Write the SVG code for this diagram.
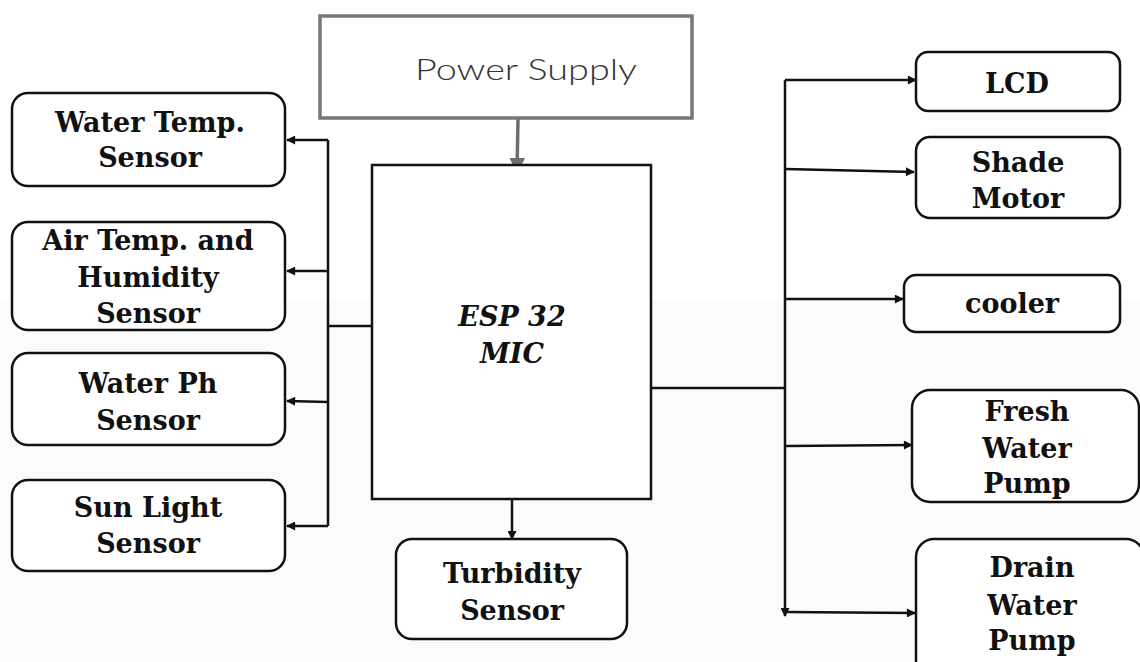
<svg xmlns="http://www.w3.org/2000/svg" width="1140" height="662" viewBox="0 0 1140 662">
<style>
.box{fill:#fff;stroke:#111;stroke-width:2.5}
.lbl{font-family:"DejaVu Serif","Liberation Serif",serif;font-weight:bold;font-size:27px;fill:#111;text-anchor:middle}
.mic{font-family:"DejaVu Serif","Liberation Serif",serif;font-weight:bold;font-style:italic;font-size:27px;fill:#111;text-anchor:middle}
.ln{fill:none;stroke:#111;stroke-width:2.5}
.arr{fill:none;stroke:#111;stroke-width:2.5;marker-end:url(#ah)}
</style>
<defs>
<marker id="ah" viewBox="0 0 10 10" refX="9" refY="5" markerWidth="4" markerHeight="3.6" orient="auto" markerUnits="strokeWidth">
<path d="M0,0 L10,5 L0,10 z" fill="#111"/>
</marker>
<marker id="ahg" viewBox="0 0 10 10" refX="9" refY="5" markerWidth="4.5" markerHeight="4.5" orient="auto" markerUnits="strokeWidth">
<path d="M0,0 L10,5 L0,10 z" fill="#6e6e6e"/>
</marker>
</defs>
<rect width="1140" height="662" fill="#fff"/>
<rect y="300" width="1140" height="362" fill="#fbfbfb"/>

<g id="connectors">
<line x1="518" y1="119" x2="517" y2="172" stroke="#6e6e6e" stroke-width="3.5" marker-end="url(#ahg)"/>
<line class="ln" x1="372" y1="326" x2="328" y2="326"/>
<line class="ln" x1="328" y1="140" x2="328" y2="526"/>
<line class="arr" x1="328" y1="140" x2="287" y2="140"/>
<line class="arr" x1="328" y1="271" x2="287" y2="271"/>
<line class="arr" x1="328" y1="402" x2="287" y2="401"/>
<line class="arr" x1="328" y1="526" x2="287" y2="526"/>
<line class="arr" x1="512" y1="499" x2="512" y2="539"/>
<line class="ln" x1="651" y1="388" x2="785" y2="388"/>
<line class="arr" x1="785" y1="80" x2="785" y2="616"/>
<line class="arr" x1="785" y1="80" x2="916" y2="80"/>
<line class="arr" x1="785" y1="169" x2="914" y2="172"/>
<line class="arr" x1="785" y1="299" x2="903" y2="299"/>
<line class="arr" x1="785" y1="446" x2="912" y2="445"/>
<line class="arr" x1="785" y1="612" x2="915" y2="613"/>
</g>

<g id="power">
<rect x="320" y="16" width="372" height="102" fill="#fff" stroke="#777" stroke-width="3.5"/>
<text x="526" y="80" font-family="Lato,'DejaVu Sans',sans-serif" font-weight="300" font-size="29" fill="#333" text-anchor="middle" textLength="222" lengthAdjust="spacingAndGlyphs">Power Supply</text>
</g>

<g id="esp32">
<rect x="372" y="165" width="279" height="334" fill="#fff" stroke="#111" stroke-width="2.5"/>
<text class="mic" x="512" y="326">ESP 32</text>
<text class="mic" x="512" y="363">MIC</text>
</g>

<g id="water-temp">
<rect class="box" x="12" y="93" width="273" height="93" rx="16"/>
<text class="lbl" x="150" y="132">Water Temp.</text>
<text class="lbl" x="150" y="167">Sensor</text>
</g>

<g id="air-temp">
<rect class="box" x="12" y="222" width="273" height="108" rx="16"/>
<text class="lbl" x="148" y="250">Air Temp. and</text>
<text class="lbl" x="148" y="287">Humidity</text>
<text class="lbl" x="148" y="323">Sensor</text>
</g>

<g id="water-ph">
<rect class="box" x="12" y="353" width="273" height="92" rx="16"/>
<text class="lbl" x="148" y="393">Water Ph</text>
<text class="lbl" x="148" y="430">Sensor</text>
</g>

<g id="sun-light">
<rect class="box" x="12" y="480" width="273" height="91" rx="16"/>
<text class="lbl" x="148" y="517">Sun Light</text>
<text class="lbl" x="148" y="553">Sensor</text>
</g>

<g id="turbidity">
<rect class="box" x="396" y="539" width="231" height="100" rx="16"/>
<text class="lbl" x="512" y="583">Turbidity</text>
<text class="lbl" x="512" y="620">Sensor</text>
</g>

<g id="lcd">
<rect class="box" x="916" y="52" width="204" height="59" rx="12"/>
<text class="lbl" x="1017" y="93">LCD</text>
</g>

<g id="shade-motor">
<rect class="box" x="916" y="137" width="204" height="81" rx="14"/>
<text class="lbl" x="1018" y="172">Shade</text>
<text class="lbl" x="1018" y="208">Motor</text>
</g>

<g id="cooler">
<rect class="box" x="904" y="275" width="216" height="57" rx="12"/>
<text class="lbl" x="1012" y="313">cooler</text>
</g>

<g id="fresh-pump">
<rect class="box" x="912" y="390" width="227" height="112" rx="18"/>
<text class="lbl" x="1027" y="421">Fresh</text>
<text class="lbl" x="1027" y="458">Water</text>
<text class="lbl" x="1027" y="493">Pump</text>
</g>

<g id="drain-pump">
<rect class="box" x="916" y="539" width="228" height="140" rx="18"/>
<text class="lbl" x="1032" y="577">Drain</text>
<text class="lbl" x="1032" y="615">Water</text>
<text class="lbl" x="1032" y="650">Pump</text>
</g>
</svg>
